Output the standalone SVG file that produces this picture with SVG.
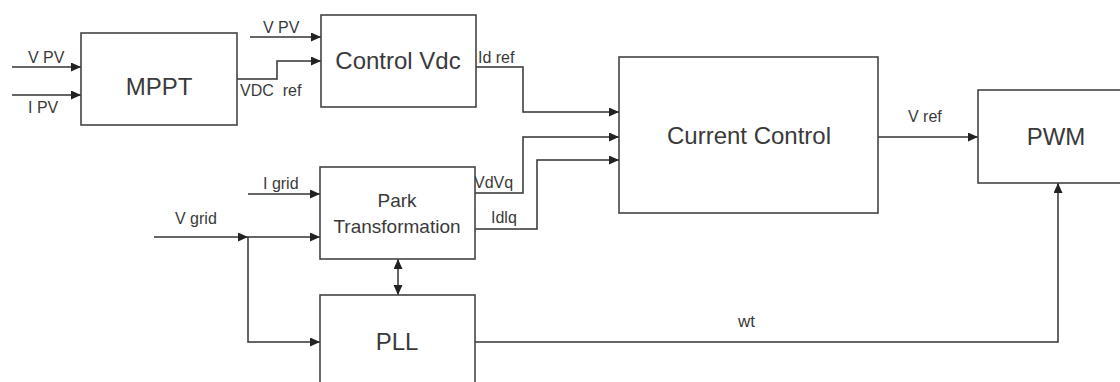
<svg xmlns="http://www.w3.org/2000/svg" width="1120" height="382" viewBox="0 0 1120 382">
<defs>
<marker id="arr" markerUnits="userSpaceOnUse" markerWidth="11" markerHeight="10" refX="10" refY="4.5" orient="auto-start-reverse">
<path d="M0,0 L10,4.5 L0,9 z" fill="#222"/>
</marker>
<style>
.box{fill:#fff;stroke:#444;stroke-width:1.6}
.ln{fill:none;stroke:#333;stroke-width:1.5}
.big{font-family:"Liberation Sans",Arial,sans-serif;font-size:24px;fill:#3a3a3a;text-anchor:middle}
.mid{font-family:"Liberation Sans",Arial,sans-serif;font-size:19px;fill:#3a3a3a;text-anchor:middle}
.lbl{font-family:"Liberation Sans",Arial,sans-serif;font-size:16px;fill:#3a3a3a}
</style>
</defs>
<rect width="1120" height="382" fill="#fff"/>
<g id="connectors">
<path class="ln" d="M12,67 H81" marker-end="url(#arr)"/>
<path class="ln" d="M12,95 H81" marker-end="url(#arr)"/>
<path class="ln" d="M237,79 H277 V61 H321" marker-end="url(#arr)"/>
<path class="ln" d="M250,37 H321" marker-end="url(#arr)"/>
<path class="ln" d="M476,67 H523 V112 H619" marker-end="url(#arr)"/>
<path class="ln" d="M475,193 H523 V137 H619" marker-end="url(#arr)"/>
<path class="ln" d="M475,229 H537 V160 H619" marker-end="url(#arr)"/>
<path class="ln" d="M878,137 H978" marker-end="url(#arr)"/>
<path class="ln" d="M248,194 H320" marker-end="url(#arr)"/>
<path class="ln" d="M154,237 H248" marker-end="url(#arr)"/>
<path class="ln" d="M248,237 H320" marker-end="url(#arr)"/>
<path class="ln" d="M248,237 V342 H320" marker-end="url(#arr)"/>
<path class="ln" d="M398,259 V295" marker-start="url(#arr)" marker-end="url(#arr)"/>
<path class="ln" d="M475,342 H1058 V183" marker-end="url(#arr)"/>
<text class="lbl" x="28" y="63">V PV</text>
<text class="lbl" x="28" y="113">I PV</text>
<text class="lbl" x="240" y="96" xml:space="preserve" style="white-space:pre">VDC  ref</text>
<text class="lbl" x="263" y="33">V PV</text>
<text class="lbl" x="478" y="63">Id ref</text>
<text class="lbl" x="474" y="188">VdVq</text>
<text class="lbl" x="491" y="223">Idlq</text>
<text class="lbl" x="263" y="189">I grid</text>
<text class="lbl" x="175" y="224">V grid</text>
<text class="lbl" x="908" y="122">V ref</text>
<text class="lbl" x="738" y="327" style="font-size:17px">wt</text>
</g>
<g id="mppt">
<rect class="box" x="81" y="33" width="156" height="92"/>
<text class="big" x="159" y="95">MPPT</text>
</g>
<g id="control-vdc">
<rect class="box" x="321" y="15" width="155" height="92"/>
<text class="big" x="398" y="69">Control Vdc</text>
</g>
<g id="current-control">
<rect class="box" x="619" y="57" width="259" height="156"/>
<text class="big" x="749" y="144">Current Control</text>
</g>
<g id="pwm">
<rect class="box" x="978" y="90" width="150" height="93"/>
<text class="big" x="1056" y="145">PWM</text>
</g>
<g id="park">
<rect class="box" x="320" y="167" width="155" height="92"/>
<text class="mid" x="397" y="207">Park</text>
<text class="mid" x="397" y="233">Transformation</text>
</g>
<g id="pll">
<rect class="box" x="320" y="295" width="155" height="110"/>
<text class="big" x="397" y="350">PLL</text>
</g>
</svg>
